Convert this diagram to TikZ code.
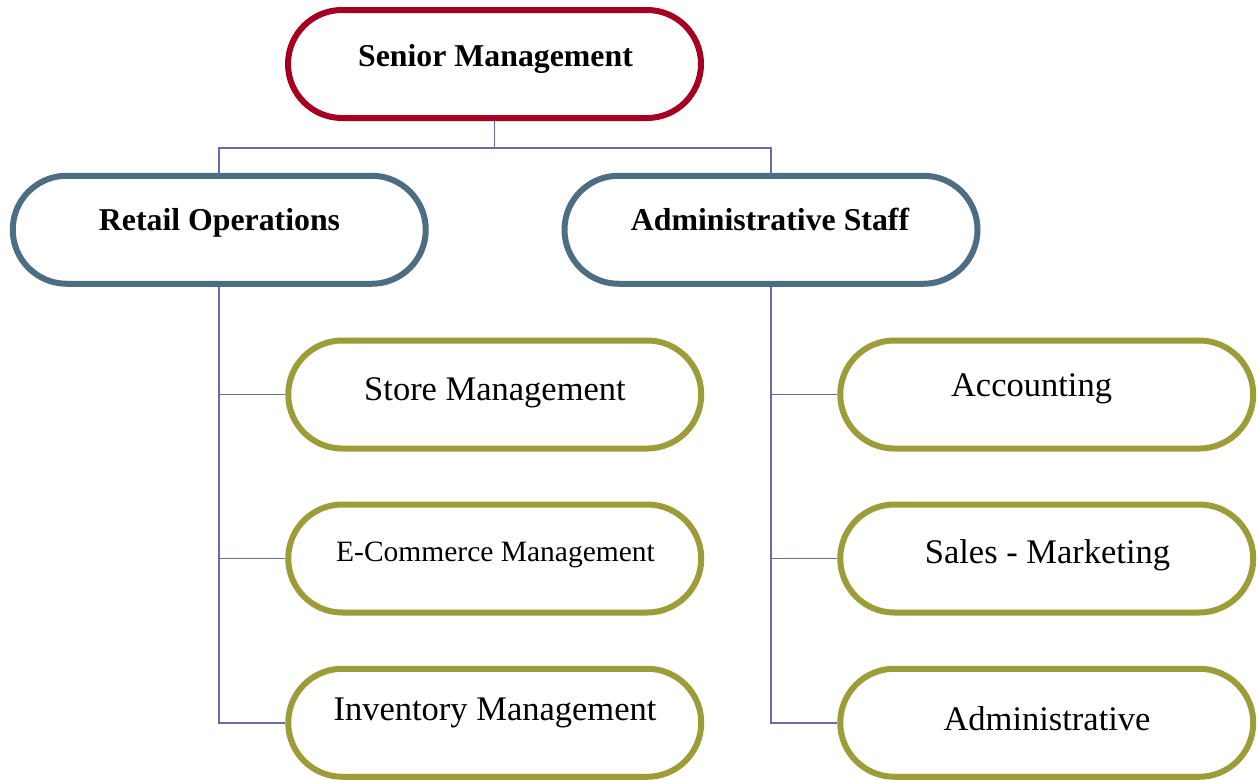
\documentclass[tikz,border=0pt]{standalone}
\usepackage{fontspec}
\setmainfont{Liberation Serif}
\definecolor{topred}{HTML}{A50021}
\definecolor{midblue}{HTML}{4D6D82}
\definecolor{olive}{HTML}{9C9C38}
\definecolor{conn}{HTML}{6A6AA6}
\tikzset{
  box/.style={draw, line width=6pt, rounded corners=54pt, minimum width=413pt, minimum height=108pt, inner sep=0pt, fill=white},
  topbox/.style={box, draw=topred},
  midbox/.style={box, draw=midblue},
  leafbox/.style={box, draw=olive},
  boldtxt/.style={anchor=base, inner sep=0pt, font=\fontsize{31.8pt}{36pt}\selectfont\bfseries},
  regtxt/.style={anchor=base, inner sep=0pt, font=\fontsize{34.5pt}{40pt}\selectfont},
  smalltxt/.style={anchor=base, inner sep=0pt, font=\fontsize{29.5pt}{34pt}\selectfont},
  link/.style={draw=conn, line width=1.6pt}
}
\begin{document}
\begin{tikzpicture}[x=1pt,y=-1pt]
\useasboundingbox (0,0) rectangle (1258,779);
% boxes
\node[topbox] (sen) at (494.5,64) {};
\node[midbox] (ret) at (219.25,229.75) {};
\node[midbox] (adm) at (771,229.75) {};
\node[leafbox] (c1) at (494.75,394.5) {};
\node[leafbox] (c2) at (494.75,558.5) {};
\node[leafbox] (c3) at (494.75,722.75) {};
\node[leafbox] (d1) at (1046.75,394.5) {};
\node[leafbox] (d2) at (1046.75,558.5) {};
\node[leafbox] (d3) at (1046.75,722.75) {};
% connectors
\coordinate (bus) at (494.5,148);
\draw[link] (sen.south) -- (bus);
\draw[link] (ret.north) -- (ret.north |- bus) -- (adm.north |- bus) -- (adm.north);
\draw[link] (ret.south) |- (c1.west);
\draw[link] (ret.south) |- (c2.west);
\draw[link] (ret.south) |- (c3.west);
\draw[link] (adm.south) |- (d1.west);
\draw[link] (adm.south) |- (d2.west);
\draw[link] (adm.south) |- (d3.west);
% texts
\node[boldtxt] (tsen) at (495.5,66) {Senior Management};
\node[boldtxt] (tret) at (219.5,230.5) {Retail Operations};
\node[boldtxt] (tadm) at (770,230.5) {Administrative Staff};
\node[regtxt] (tc1) at (495,400.5) {Store Management};
\node[smalltxt] (tc2) at (495.5,561.5) {E-Commerce Management};
\node[regtxt] (tc3) at (495,720) {Inventory Management};
\node[regtxt] (td1) at (1031.5,396.5) {Accounting};
\node[regtxt] (td2) at (1047.5,563) {Sales - Marketing};
\node[regtxt] (td3) at (1047,730) {Administrative};
\end{tikzpicture}
\end{document}
